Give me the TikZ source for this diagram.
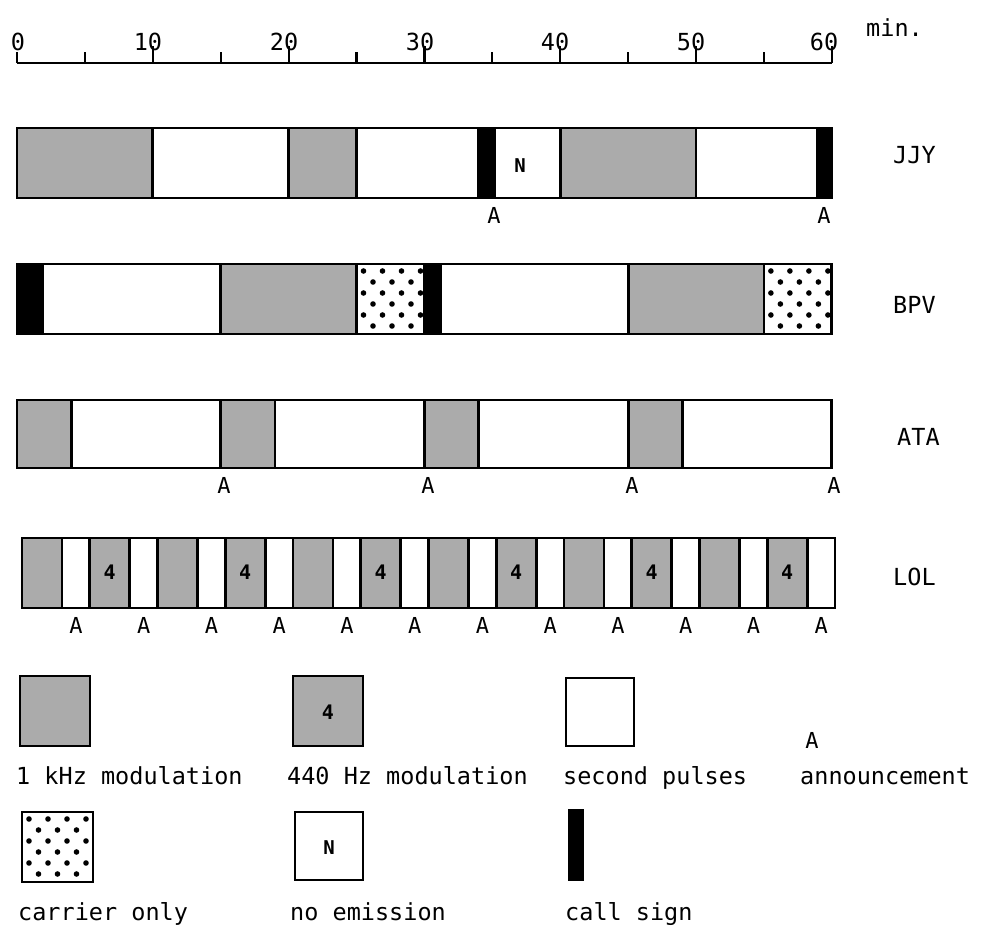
\documentclass[tikz,border=0pt]{standalone}
\usepackage{fontspec}
\setmonofont{DejaVu Sans Mono}
\tikzset{
  seg/.style={draw=black, line width=2.8pt, line join=miter},
  onek/.style={seg, fill=black!33},
  pulse/.style={seg, fill=white},
  callsgn/.style={seg, fill=black},
  lbl/.style={font=\ttfamily\fontsize{23.5}{26}\selectfont, inner sep=0pt, anchor=base west},
  numlbl/.style={font=\ttfamily\fontsize{23.5}{26}\selectfont, inner sep=0pt, anchor=base},
  ann/.style={font=\ttfamily\fontsize{22}{24}\selectfont, inner sep=0pt, anchor=base},
  four/.style={font=\ttfamily\bfseries\fontsize{20}{22}\selectfont, inner sep=0pt},
  nsym/.style={font=\ttfamily\bfseries\fontsize{19}{21}\selectfont, inner sep=0pt},
}
\newcommand\carrierdots[4]{%
  \begin{scope}
    \clip (#1,#2) rectangle (#3,#4);
    \fill[white] (#1,#2) rectangle (#3,#4);
    \foreach \r in {0,...,6} {
      \foreach \c in {0,...,4} {
        \fill ({#1+7+\c*19+mod(\r,2)*9.5},{#2+7+\r*11}) circle (2.8pt);
      }
    }
  \end{scope}
  \draw[seg] (#1,#2) rectangle (#3,#4);
}
\begin{document}
\begin{tikzpicture}[x=1pt,y=-1pt]
\useasboundingbox[fill=white] (0,0) rectangle (983,929);

% ---- time axis ----
\coordinate (ax0) at (17,63);
\coordinate (ax60) at (832,63);
\draw[line width=2.6pt] (ax0) -- (ax60);
\foreach \m in {0,5,...,60} {
  \pgfmathsetmacro\tx{17+13.58*\m}
  \pgfmathsetmacro\ty{(mod(\m,10)==0 && \m>0) ? 46 : 52}
  \draw[line width=2.2pt] (\tx,63) -- (\tx,\ty);
}
\node[numlbl] (n0) at (18,50) {0};
\node[numlbl] (n10) at (148,50) {10};
\node[numlbl] (n20) at (284,50) {20};
\node[numlbl] (n30) at (420,50) {30};
\node[numlbl] (n40) at (555,50) {40};
\node[numlbl] (n50) at (691,50) {50};
\node[numlbl] (n60) at (824,50) {60};
\node[lbl] (min) at (866,36) {min.};

% ---- JJY ----
\draw[onek] (17,128) rectangle (152.8,198);
\draw[pulse] (152.8,128) rectangle (288.6,198);
\draw[onek] (288.6,128) rectangle (356.5,198);
\draw[pulse] (356.5,128) rectangle (478.7,198);
\draw[pulse] (495,128) rectangle (560.2,198);
\draw[callsgn] (478.7,128) rectangle (495,198);
\draw[onek] (560.2,128) rectangle (696,198);
\draw[pulse] (696,128) rectangle (816.9,198);
\draw[callsgn] (816.9,128) rectangle (831.8,198);
\node[nsym] (jjyN) at (520,166) {N};
\node[lbl] (jjy) at (893,163) {JJY};
\node[ann] (jjyA1) at (494,223) {A};
\node[ann] (jjyA2) at (824,223) {A};

% ---- BPV ----
\draw[pulse] (42.8,264) rectangle (220.7,334);
\draw[callsgn] (17,264) rectangle (42.8,334);
\draw[onek] (220.7,264) rectangle (356.5,334);
\carrierdots{356.5}{264}{424.4}{334}
\draw[pulse] (440.7,264) rectangle (628.1,334);
\draw[callsgn] (424.4,264) rectangle (440.7,334);
\draw[onek] (628.1,264) rectangle (763.9,334);
\carrierdots{763.9}{264}{831.8}{334}
\node[lbl] (bpv) at (893,313) {BPV};

% ---- ATA ----
\draw[onek] (17,400) rectangle (71.3,468);
\draw[pulse] (71.3,400) rectangle (220.7,468);
\draw[onek] (220.7,400) rectangle (275,468);
\draw[pulse] (275,400) rectangle (424.4,468);
\draw[onek] (424.4,400) rectangle (478.7,468);
\draw[pulse] (478.7,400) rectangle (628.1,468);
\draw[onek] (628.1,400) rectangle (682.4,468);
\draw[pulse] (682.4,400) rectangle (831.8,468);
\node[lbl] (ata) at (897,445) {ATA};
\node[ann] (ataA1) at (224,493) {A};
\node[ann] (ataA2) at (428,493) {A};
\node[ann] (ataA3) at (632,493) {A};
\node[ann] (ataA4) at (834,493) {A};

% ---- LOL ----
\foreach \k in {0,...,11} {
  \pgfmathsetmacro\xa{22+67.75*\k}
  \pgfmathsetmacro\xb{\xa+40}
  \pgfmathsetmacro\xc{\xa+67.75}
  \draw[onek] (\xa,538) rectangle (\xb,608);
  \draw[pulse] (\xb,538) rectangle (\xc,608);
  \node[ann] (lolA\k) at ({\xb+13.9},633) {A};
}
\foreach \k in {1,3,...,11} {
  \node[four] (lol4\k) at ({22+67.75*\k+20},572) {4};
}
\node[lbl] (lol) at (893,585) {LOL};

% ---- legend row 1 ----
\draw[onek] (20,676) rectangle (90,746);
\draw[onek] (293,676) rectangle (363,746);
\node[four] (leg4) at (328,712) {4};
\draw[pulse] (566,678) rectangle (634,746);
\node[ann] (legA) at (812,748) {A};
\node[lbl] (l1k) at (16,784) {1 kHz modulation};
\node[lbl] (l440) at (287,784) {440 Hz modulation};
\node[lbl] (lsec) at (563,784) {second pulses};
\node[lbl] (lann) at (800,784) {announcement};

% ---- legend row 2 ----
\carrierdots{22}{812}{93}{882}
\draw[pulse] (295,812) rectangle (363,880);
\node[nsym] (legN) at (329,848) {N};
\draw[callsgn] (569,810) rectangle (583,880);
\node[lbl] (lcar) at (18,920) {carrier only};
\node[lbl] (lno) at (290,920) {no emission};
\node[lbl] (lcall) at (565,920) {call sign};
\end{tikzpicture}
\end{document}
